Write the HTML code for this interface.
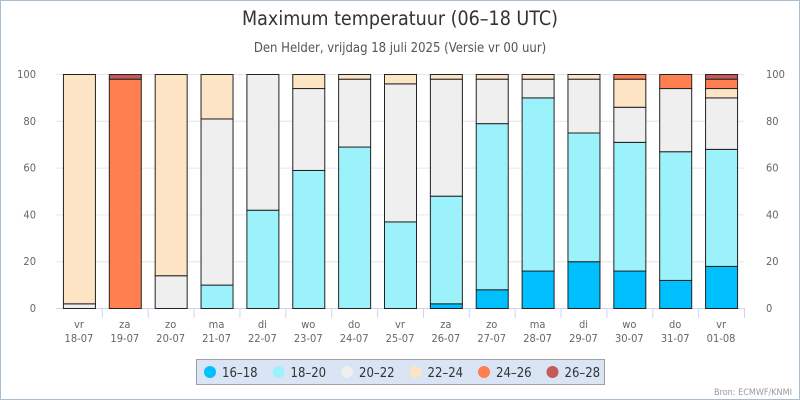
<!DOCTYPE html>
<html><head><meta charset="utf-8"><style>
body{margin:0;background:#fff}
svg{display:block;font-family:"DejaVu Sans Condensed","DejaVu Sans","Liberation Sans",sans-serif}
</style></head><body>
<svg id="c" width="800" height="400" viewBox="0 0 800 400">
<rect x="0.5" y="0.5" width="799" height="399" fill="#fff" stroke="#a9bdcf"/>
<text x="400" y="25" text-anchor="middle" font-size="19.5" fill="#333">Maximum temperatuur (06–18 UTC)</text>
<text x="400" y="52" text-anchor="middle" font-size="13" fill="#555">Den Helder, vrijdag 18 juli 2025 (Versie vr 00 uur)</text>
<g id="grid"></g><g id="bars"></g><g id="axes"></g>
<g>
<rect x="196.5" y="359.5" width="408" height="25" fill="#d9e4f5" stroke="#a0a0a0"/>
<g id="leg"></g>
</g>
<text x="792" y="395" text-anchor="end" font-size="9" fill="#999">Bron: ECMWF/KNMI</text>
</svg>
<script>
const days=["vr","za","zo","ma","di","wo","do","vr","za","zo","ma","di","wo","do","vr"];
const dates=["18-07","19-07","20-07","21-07","22-07","23-07","24-07","25-07","26-07","27-07","28-07","29-07","30-07","31-07","01-08"];
const seriesNames=["16-18","18-20","20-22","22-24","24-26","26-28"];
const s1618=[0,0,0,0,0,0,0,0,2,8,16,20,16,12,18];
const s1820=[0,0,0,10,42,59,69,37,46,71,74,55,55,55,50];
const s2022=[2,0,14,71,58,35,29,59,50,19,8,23,15,27,22];
const s2224=[98,0,86,19,0,6,2,4,2,2,2,2,12,0,4];
const s2426=[0,98,0,0,0,0,0,0,0,0,0,0,2,6,4];
const s2628=[0,2,0,0,0,0,0,0,0,0,0,0,0,0,2];
const yTicks=[0,20,40,60,80,100];
const colors=["#00bfff","#9cf2fb","#efefef","#fde4c4","#ff7f50","#c35b5b"];
const series=[s1618,s1820,s2022,s2224,s2426,s2628];
const NS="http://www.w3.org/2000/svg";
const L=56,R=744,T=74,B=308,bw=32;
const step=(R-L)/days.length;
const x=i=>L+step*(i+0.5);
const y=v=>B-(B-T)*v/100;
function mk(tag,at,parent){const e=document.createElementNS(NS,tag);for(const k in at)e.setAttribute(k,at[k]);document.getElementById(parent).appendChild(e);return e;}
yTicks.forEach(t=>{
 const g=mk("line",{x1:L,x2:R,y1:y(t)+.5,y2:y(t)+.5,stroke:t===0?"#ccd6eb":"#e6e6e6"},"grid");
 
 
 const a=mk("text",{x:36,y:y(t)+4,"text-anchor":"end","font-size":11,fill:"#666"},"axes");a.textContent=t;
 
 
 const b=mk("text",{x:766,y:y(t)+4,"text-anchor":"start","font-size":11,fill:"#666"},"axes");b.textContent=t;
 
 
});
days.forEach((d,i)=>{
 const tk=mk("line",{x1:L+step*(i+1)+.5,x2:L+step*(i+1)+.5,y1:B,y2:B+10,stroke:"#ccd6eb"},"axes");
 
 
 const t=mk("text",{x:x(i),y:B+20,"text-anchor":"middle","font-size":11,fill:"#666"},"axes");t.textContent=d;
 
 
 const t2=mk("text",{x:x(i),y:B+34,"text-anchor":"middle","font-size":11,fill:"#666"},"axes");t2.textContent=dates[i];
 
 
 let acc=0;
 series.forEach((s,k)=>{
  const v=s[i]; if(v<=0)return;
  const r=mk("rect",{x:x(i)-bw/2+.5,y:y(acc+v)+.5,width:bw,height:y(acc)-y(acc+v),fill:colors[k],stroke:"#222","stroke-width":1},"bars");
  
  
  acc+=v;
 });
});
let lx=203;
seriesNames.forEach((n,k)=>{
 const c=mk("circle",{cx:lx+7,cy:372,r:6,fill:colors[k]},"leg");
 
 
 const t=mk("text",{x:lx+19,y:377,"font-size":13,fill:"#333"},"leg");t.textContent=n.replace("-","–");
 
 
 lx+=68.5;
});
</script>
</body></html>
